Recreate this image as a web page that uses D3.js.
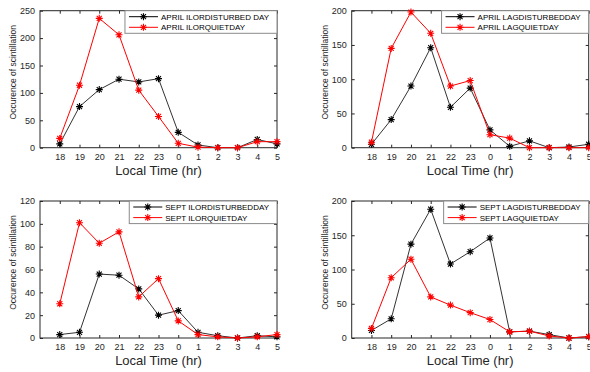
<!DOCTYPE html>
<html>
<head>
<meta charset="utf-8">
<script src="https://cdn.jsdelivr.net/npm/d3@7"></script>
<style>
  body { margin: 0; background: #fff; }
  svg { display: block; font-family: "Liberation Sans", Arial, sans-serif; }
</style>
</head>
<body>
<div id="chart"></div>
<script>
// local time categories (hours)
const hours = ["18", "19", "20", "21", "22", "23", "0", "1", "2", "3", "4", "5"];

// April - Ilorin
const aprilIlorDisturbed = [7, 75, 106, 125, 120, 126, 28, 5, 0, 0, 15, 7];
const aprilIlorQuiet = [17, 114, 236, 206, 105, 57, 8, 1, 0, 0, 11, 11];
// April - Lagos
const aprilLagDisturbed = [5, 41, 90, 146, 59, 87, 26, 2, 10, 0, 1, 5];
const aprilLagQuiet = [8, 145, 198, 167, 90, 98, 19, 14, 0, 0, 0, 0];
// September - Ilorin
const septIlorDisturbed = [3, 5, 56, 55, 43, 20, 24, 5, 2, 0, 2, 1];
const septIlorQuiet = [30, 101, 83, 93, 36, 52, 15, 3, 1, 0, 1, 3];
// September - Lagos
const septLagDisturbed = [11, 28, 137, 188, 108, 126, 146, 9, 10, 5, 0, 2];
const septLagQuiet = [14, 88, 115, 60, 48, 37, 27, 9, 10, 3, 0, 2];

// y axis ticks per panel
const ticksAprilIlor = [0, 50, 100, 150, 200, 250];
const ticksAprilLag = [0, 50, 100, 150, 200];
const ticksSeptIlor = [0, 20, 40, 60, 80, 100, 120];
const ticksSeptLag = [0, 50, 100, 150, 200];

const panels = [
  { left: 40, top: 10.7, ticks: ticksAprilIlor, series: [
      { name: "APRIL ILORDISTURBED DAY", values: aprilIlorDisturbed, color: "#000" },
      { name: "APRIL ILORQUIETDAY", values: aprilIlorQuiet, color: "#ff0000" } ] },
  { left: 351.7, top: 10.7, ticks: ticksAprilLag, series: [
      { name: "APRIL LAGDISTURBEDDAY", values: aprilLagDisturbed, color: "#000" },
      { name: "APRIL LAGQUIETDAY", values: aprilLagQuiet, color: "#ff0000" } ] },
  { left: 40, top: 201, ticks: ticksSeptIlor, series: [
      { name: "SEPT ILORDISTURBEDDAY", values: septIlorDisturbed, color: "#000" },
      { name: "SEPT ILORQUIETDAY", values: septIlorQuiet, color: "#ff0000" } ] },
  { left: 351.7, top: 201, ticks: ticksSeptLag, series: [
      { name: "SEPT LAGDISTURBEDDAY", values: septLagDisturbed, color: "#000" },
      { name: "SEPT LAGQUIETDAY", values: septLagQuiet, color: "#ff0000" } ] }
];

const W = 590, H = 372;
const pw = 237, ph = 137;
const axisColor = "#262626";

const svg = d3.select("#chart").append("svg")
  .attr("width", W).attr("height", H);

// matlab style '*' marker: plus + cross
function star(r) {
  const p = d3.path();
  const d = r * 0.72;
  p.moveTo(-r, 0); p.lineTo(r, 0);
  p.moveTo(0, -r); p.lineTo(0, r);
  p.moveTo(-d, -d); p.lineTo(d, d);
  p.moveTo(-d, d); p.lineTo(d, -d);
  return p.toString();
}

panels.forEach(function (pn) {
  const g = svg.append("g")
    .attr("transform", "translate(" + pn.left + "," + pn.top + ")");

  const x = d3.scaleLinear().domain([-1, hours.length - 1]).range([0, pw]);
  const yMax = pn.ticks[pn.ticks.length - 1];
  const y = d3.scaleLinear().domain([0, yMax]).range([ph, 0]);

  // bottom axis with inward ticks
  const xAxis = g.append("g")
    .attr("transform", "translate(0," + ph + ")")
    .call(d3.axisBottom(x)
      .tickValues(d3.range(hours.length))
      .tickFormat(function (i) { return hours[i]; })
      .tickSizeInner(-3).tickSizeOuter(0).tickPadding(6));
  xAxis.select(".domain").remove();
  xAxis.selectAll("line").attr("stroke", axisColor);
  xAxis.selectAll("text").attr("fill", axisColor).style("font-size", "9px");

  // top ticks
  g.append("g")
    .call(d3.axisTop(x).tickValues(d3.range(hours.length)).tickFormat("")
      .tickSizeInner(-3).tickSizeOuter(0))
    .call(function (a) { a.select(".domain").remove(); a.selectAll("line").attr("stroke", axisColor); });

  // left axis
  const yAxis = g.append("g")
    .call(d3.axisLeft(y).tickValues(pn.ticks)
      .tickSizeInner(-3).tickSizeOuter(0).tickPadding(5));
  yAxis.select(".domain").remove();
  yAxis.selectAll("line").attr("stroke", axisColor);
  yAxis.selectAll("text").attr("fill", axisColor).style("font-size", "9px");

  // right ticks
  g.append("g")
    .attr("transform", "translate(" + pw + ",0)")
    .call(d3.axisRight(y).tickValues(pn.ticks).tickFormat("")
      .tickSizeInner(-3).tickSizeOuter(0))
    .call(function (a) { a.select(".domain").remove(); a.selectAll("line").attr("stroke", axisColor); });

  // box
  g.append("rect")
    .attr("width", pw).attr("height", ph)
    .attr("fill", "none").attr("stroke", axisColor).attr("stroke-width", 1);

  // series
  const line = d3.line()
    .x(function (d, i) { return x(i); })
    .y(function (d) { return y(d); });

  pn.series.forEach(function (s) {
    g.append("path")
      .datum(s.values)
      .attr("fill", "none")
      .attr("stroke", s.color === "#000" ? "#333" : s.color)
      .attr("stroke-width", 1)
      .attr("d", line);

    g.selectAll(null)
      .data(s.values)
      .enter()
      .append("path")
      .attr("transform", function (d, i) { return "translate(" + x(i) + "," + y(d) + ")"; })
      .attr("d", star(3.5))
      .attr("stroke", s.color)
      .attr("stroke-width", 1.1)
      .attr("fill", "none");
  });

  // axis labels
  g.append("text")
    .attr("x", pw / 2).attr("y", ph + 27)
    .attr("text-anchor", "middle")
    .attr("fill", axisColor)
    .style("font-size", "13px")
    .text("Local Time (hr)");

  g.append("text")
    .attr("transform", "translate(-24," + (ph / 2 - 7) + ") rotate(-90)")
    .attr("text-anchor", "middle")
    .attr("fill", axisColor)
    .style("font-size", "8.5px")
    .text("Occurence of scintillation");

  // legend
  const lg = g.append("g");
  const texts = pn.series.map(function (s, i) {
    return lg.append("text")
      .attr("y", 6 + i * 10.6 + 3)
      .attr("fill", "#000")
      .style("font-size", "8px")
      .text(s.name);
  });
  const tw = d3.max(texts, function (t) { return t.node().getComputedTextLength(); });
  const lw = tw + 44;
  const lx = pw - lw;
  lg.insert("rect", ":first-child")
    .attr("x", lx).attr("y", 0)
    .attr("width", lw).attr("height", 22.6)
    .attr("fill", "#fff").attr("stroke", "#8a8a8a").attr("stroke-width", 1);
  pn.series.forEach(function (s, i) {
    const ly = 6 + i * 10.6;
    texts[i].attr("x", lx + 36);
    lg.append("line")
      .attr("x1", lx + 4).attr("x2", lx + 33)
      .attr("y1", ly).attr("y2", ly)
      .attr("stroke", s.color).attr("stroke-width", 1);
    lg.append("path")
      .attr("transform", "translate(" + (lx + 18.5) + "," + ly + ")")
      .attr("d", star(3.5))
      .attr("stroke", s.color).attr("stroke-width", 1.1).attr("fill", "none");
  });
});
</script>
</body>
</html>
